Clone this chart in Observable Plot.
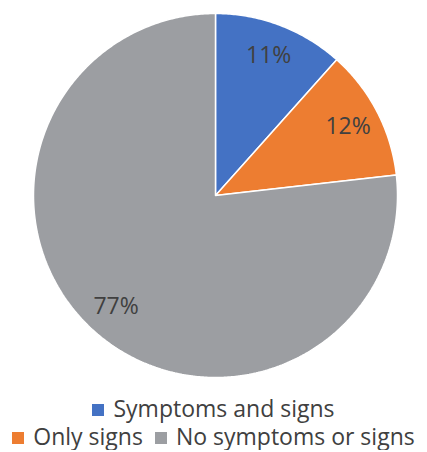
<!DOCTYPE html>
<html>
<head>
<meta charset="utf-8">
<script src="https://cdn.jsdelivr.net/npm/d3@7"></script>
<script src="https://cdn.jsdelivr.net/npm/@observablehq/plot@0.6"></script>
<style>
  html, body { margin: 0; padding: 0; background: #fff; }
  #chart { width: 427px; height: 392px; }
  .legend { font-family: "Open Sans", Lato, sans-serif; font-size: 23px; color: #404040; width: 427px; text-align: center; line-height: 28px; margin-top: 2px; }
  .legend .row { white-space: nowrap; height: 28px; }
  .legend .item { display: inline-block; margin: 0 6px; }
  .legend .sw { display: inline-block; width: 12px; height: 12px; margin-right: 9px; vertical-align: 1px; }
</style>
</head>
<body>
<div id="chart"></div>
<script>
const categories = ["Symptoms and signs", "Only signs", "No symptoms or signs"];
const values = [11.6, 11.6, 76.8];
const labels = ["11%", "12%", "77%"];
const colors = ["#4472C4", "#ED7D31", "#9C9EA2"];

// slice geometry in unit coordinates (angle clockwise from 12 o'clock)
const arcs = d3.pie().sort(null).value(d => d)(values);
const slicePoints = [];
const labelPoints = [];
arcs.forEach((a, i) => {
  const cat = categories[i];
  slicePoints.push({cat, u: 0, v: 0});
  const n = Math.max(8, Math.ceil((a.endAngle - a.startAngle) / 0.01));
  for (let k = 0; k <= n; k++) {
    const t = a.startAngle + (a.endAngle - a.startAngle) * k / n;
    slicePoints.push({cat, u: Math.sin(t), v: Math.cos(t)});
  }
  slicePoints.push({cat, u: 0, v: 0});
  const m = (a.startAngle + a.endAngle) / 2;
  labelPoints.push({cat, u: 0.82 * Math.sin(m), v: 0.82 * Math.cos(m), label: labels[i]});
});

const chart = Plot.plot({
  width: 427,
  height: 392,
  margin: 0,
  x: {domain: [-1, 1], range: [33, 397], axis: null},
  y: {domain: [-1, 1], range: [377, 13], axis: null},
  color: {domain: categories, range: colors},
  style: {background: "#fff"},
  marks: [
    Plot.line(slicePoints, {x: "u", y: "v", z: "cat", fill: "cat", stroke: "white", strokeWidth: 1.5, strokeLinejoin: "miter", curve: "linear"}),
    Plot.text(labelPoints, {x: "u", y: "v", text: "label", fill: "#404040", fontSize: 23, fontFamily: "'Open Sans', Lato, sans-serif"})
  ]
});
document.getElementById("chart").appendChild(chart);

const legend = document.createElement("div");
legend.className = "legend";
const rows = [[0], [1, 2]];
rows.forEach(r => {
  const row = document.createElement("div");
  row.className = "row";
  r.forEach(i => {
    const item = document.createElement("span");
    item.className = "item";
    const sw = document.createElement("span");
    sw.className = "sw";
    sw.style.background = colors[i];
    item.appendChild(sw);
    item.appendChild(document.createTextNode(categories[i]));
    row.appendChild(item);
  });
  legend.appendChild(row);
});
document.body.appendChild(legend);
</script>
</body>
</html>
